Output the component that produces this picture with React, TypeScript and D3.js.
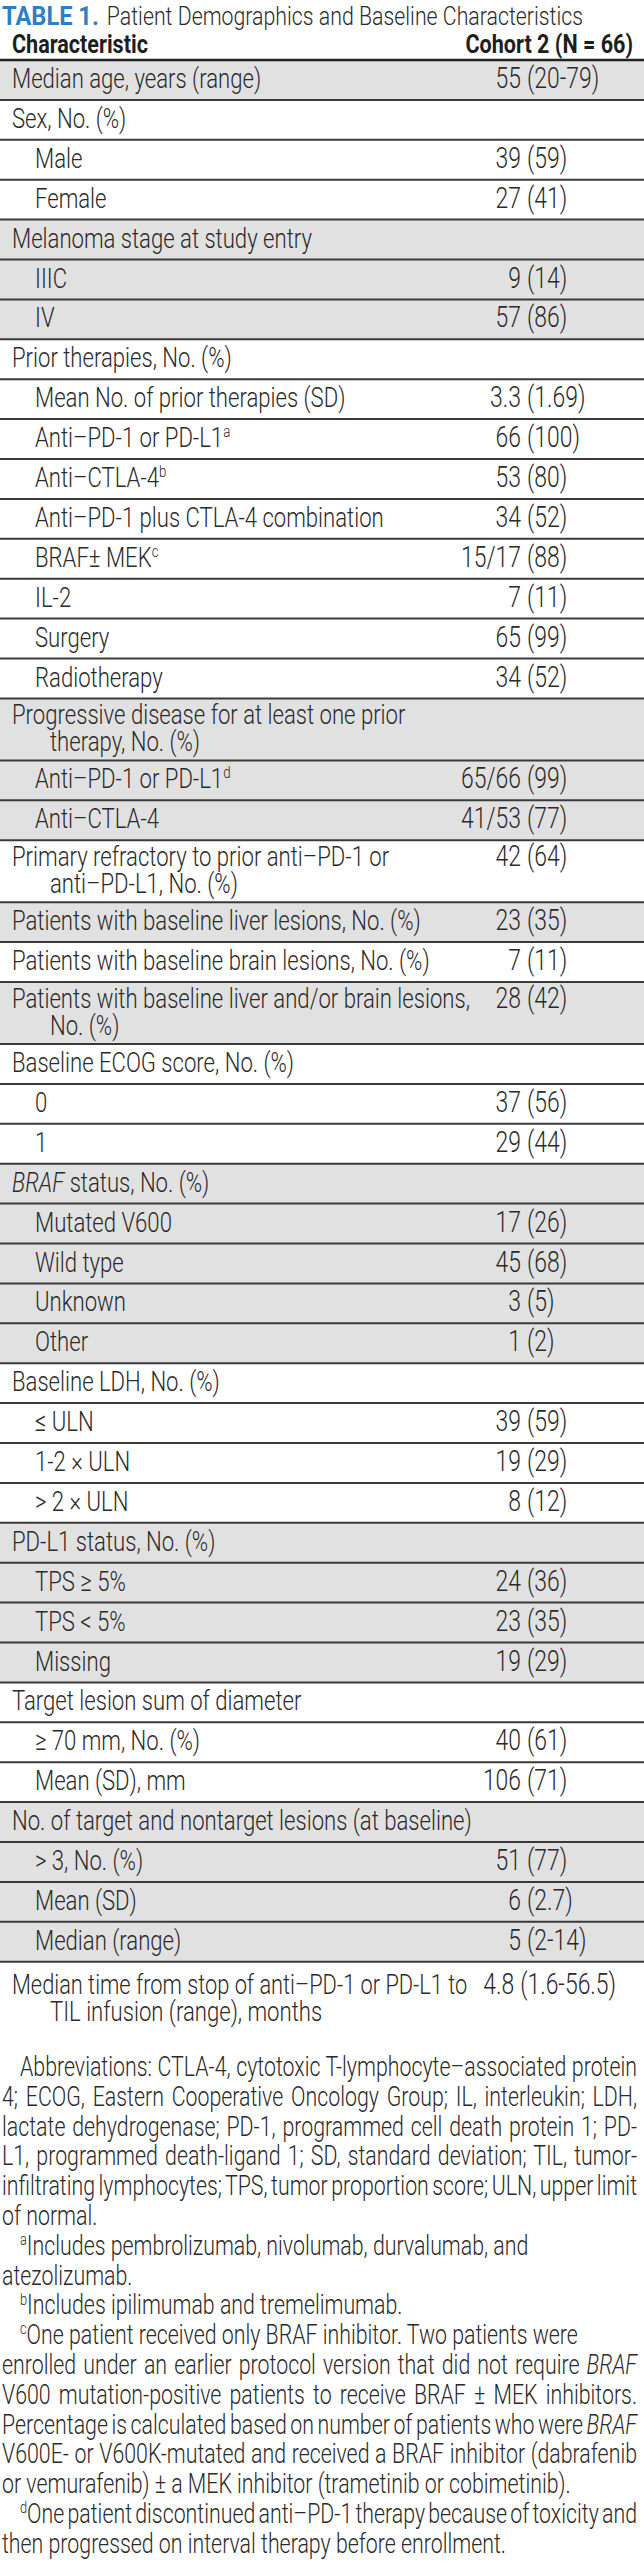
import React, { useEffect, useRef } from 'react';
import * as d3 from 'd3';

const tableLabel = 'TABLE 1.';
const tableTitle = 'Patient Demographics and Baseline Characteristics';
const headers = ['Characteristic', 'Cohort 2 (N = 66)'];

// "\n" = wrapped line, "^x" = superscript note, "*word*" = italic
const rowLabels = [
  'Median age, years (range)',
  'Sex, No. (%)',
  'Male',
  'Female',
  'Melanoma stage at study entry',
  'IIIC',
  'IV',
  'Prior therapies, No. (%)',
  'Mean No. of prior therapies (SD)',
  'Anti–PD-1 or PD-L1^a',
  'Anti–CTLA-4^b',
  'Anti–PD-1 plus CTLA-4 combination',
  'BRAF± MEK^c',
  'IL-2',
  'Surgery',
  'Radiotherapy',
  'Progressive disease for at least one prior\ntherapy, No. (%)',
  'Anti–PD-1 or PD-L1^d',
  'Anti–CTLA-4',
  'Primary refractory to prior anti–PD-1 or\nanti–PD-L1, No. (%)',
  'Patients with baseline liver lesions, No. (%)',
  'Patients with baseline brain lesions, No. (%)',
  'Patients with baseline liver and/or brain lesions,\nNo. (%)',
  'Baseline ECOG score, No. (%)',
  '0',
  '1',
  '*BRAF* status, No. (%)',
  'Mutated V600',
  'Wild type',
  'Unknown',
  'Other',
  'Baseline LDH, No. (%)',
  '≤ ULN',
  '1-2 × ULN',
  '> 2 × ULN',
  'PD-L1 status, No. (%)',
  'TPS ≥ 5%',
  'TPS < 5%',
  'Missing',
  'Target lesion sum of diameter',
  '≥ 70 mm, No. (%)',
  'Mean (SD), mm',
  'No. of target and nontarget lesions (at baseline)',
  '> 3, No. (%)',
  'Mean (SD)',
  'Median (range)',
  'Median time from stop of anti–PD-1 or PD-L1 to\nTIL infusion (range), months',
];

// 0 = section heading, 1 = item inside the section
const rowLevels = [
  0, 0, 1, 1, 0, 1, 1, 0, 1, 1, 1, 1, 1, 1, 1, 1, 0, 1, 1, 0, 0, 0, 0, 0, 1, 1,
  0, 1, 1, 1, 1, 0, 1, 1, 1, 0, 1, 1, 1, 0, 1, 1, 0, 1, 1, 1, 0,
];

const rowValues = [
  '55 (20-79)', '', '39 (59)', '27 (41)', '', '9 (14)', '57 (86)', '',
  '3.3 (1.69)', '66 (100)', '53 (80)', '34 (52)', '15/17 (88)', '7 (11)',
  '65 (99)', '34 (52)', '', '65/66 (99)', '41/53 (77)', '42 (64)', '23 (35)',
  '7 (11)', '28 (42)', '', '37 (56)', '29 (44)', '', '17 (26)', '45 (68)',
  '3 (5)', '1 (2)', '', '39 (59)', '19 (29)', '8 (12)', '', '24 (36)',
  '23 (35)', '19 (29)', '', '40 (61)', '106 (71)', '', '51 (77)', '6 (2.7)',
  '5 (2-14)', '4.8 (1.6-56.5)',
];

const footnoteParagraphs = [
  [
    'Abbreviations: CTLA-4, cytotoxic T-lymphocyte–associated protein',
    '4; ECOG, Eastern Cooperative Oncology Group; IL, interleukin; LDH,',
    'lactate dehydrogenase; PD-1, programmed cell death protein 1; PD-',
    'L1, programmed death-ligand 1; SD, standard deviation; TIL, tumor-',
    'infiltrating lymphocytes; TPS, tumor proportion score; ULN, upper limit',
    'of normal.',
  ],
  ['^aIncludes pembrolizumab, nivolumab, durvalumab, and', 'atezolizumab.'],
  ['^bIncludes ipilimumab and tremelimumab.'],
  [
    '^cOne patient received only BRAF inhibitor. Two patients were',
    'enrolled under an earlier protocol version that did not require *BRAF*',
    'V600 mutation-positive patients to receive BRAF ± MEK inhibitors.',
    'Percentage is calculated based on number of patients who were *BRAF*',
    'V600E- or V600K-mutated and received a BRAF inhibitor (dabrafenib',
    'or vemurafenib) ± a MEK inhibitor (trametinib or cobimetinib).',
  ],
  [
    '^dOne patient discontinued anti–PD-1 therapy because of toxicity and',
    'then progressed on interval therapy before enrollment.',
  ],
];

const W = 644;
const H = 2563;
const FONT = "Roboto, 'Liberation Sans', sans-serif";
const SX = 0.79; // horizontal squeeze, stands in for a condensed face

// writes "^a" superscripts and "*x*" italics as tspans
function addRich(text: any, s: string, size: number) {
  const parts = s.split(/(\^[a-d]|\*[^*]+\*)/).filter((p) => p !== '');
  let raised = false;
  parts.forEach((p) => {
    if (p.startsWith('^')) {
      text.append('tspan').attr('dy', -size * 0.36).attr('font-size', size * 0.6).text(p.slice(1));
      raised = true;
    } else {
      const t = text.append('tspan');
      if (raised) { t.attr('dy', size * 0.36); raised = false; }
      if (p.startsWith('*')) t.attr('font-style', 'italic').text(p.slice(1, -1));
      else t.text(p);
    }
  });
}

function ctext(parent: any, x: number, y: number, size: number, sx = SX) {
  return parent.append('text')
    .attr('transform', `translate(${x},${y}) scale(${sx},1)`)
    .attr('font-size', size);
}

const widthOf = (t: any, sx = SX) => (t.node() as SVGTextElement).getComputedTextLength() * sx;

export default function App() {
  const ref = useRef<SVGSVGElement>(null);

  useEffect(() => {
    document.body.style.margin = '0';
    const svg = d3.select(ref.current);
    svg.selectAll('*').remove();
    svg.attr('font-family', FONT);

    const fs = 28; // labels
    const vfs = 29; // values
    const ink = '#2a2a2a';
    const shade = '#e2e1e2';
    const rule = '#3a3a3a';
    const headerLine = 60;
    const singleH = 39.9;
    const doubleH = 62;
    const valueAnchor = 527;
    const valueMax = 616;

    // title
    const tl = ctext(svg, 2, 24.5, 26, 0.91).attr('font-weight', 'bold').attr('fill', '#2f80c3').text(tableLabel);
    ctext(svg, 2 + widthOf(tl, 0.91) + 8, 24.5, 26, 0.82).attr('font-weight', 300).attr('fill', ink).text(tableTitle);

    // column headers
    ctext(svg, 12, 52.5, 26, 0.83).attr('font-weight', 'bold').attr('fill', '#1e1e1e').text(headers[0]);
    ctext(svg, 633, 52.5, 26, 0.83).attr('font-weight', 'bold').attr('fill', '#1e1e1e')
      .attr('text-anchor', 'end').text(headers[1]);

    // row geometry
    const lines = rowLabels.map((l) => l.split('\n'));
    const heights = lines.map((l) => (l.length > 1 ? doubleH : singleH));
    const bottoms = Array.from(d3.cumsum(heights), (v) => headerLine + v);
    const tops = bottoms.map((b, i) => b - heights[i]);
    const lastRow = rowLabels.length - 1;
    let sec = -1;
    const section = rowLevels.map((lv) => (lv === 0 ? ++sec : sec));

    const rows = svg.append('g');
    rows.selectAll('rect').data(rowLabels).join('rect')
      .attr('x', 0).attr('width', W)
      .attr('y', (_, i) => tops[i]).attr('height', (_, i) => heights[i])
      .attr('fill', (_, i) => (section[i] % 2 === 0 ? shade : '#fff'));

    // row rules (last row has none)
    rows.selectAll('line.r').data(bottoms.slice(0, -1)).join('line')
      .attr('class', 'r')
      .attr('x1', 0).attr('x2', W).attr('y1', (d) => d).attr('y2', (d) => d)
      .attr('stroke', rule).attr('stroke-width', 2);
    rows.append('line').attr('x1', 0).attr('x2', W).attr('y1', headerLine).attr('y2', headerLine)
      .attr('stroke', '#222').attr('stroke-width', 2.5);

    lines.forEach((ls, i) => {
      const multi = ls.length > 1;
      const base = tops[i] + (multi ? 26 : 28) + (i === lastRow ? 6 : 0);

      // value first, so the label knows where it has to stop
      let valueLeft = W;
      const v = rowValues[i];
      if (v) {
        const cut = v.indexOf(' (');
        const g = rows.append('g');
        const rt = ctext(g, valueAnchor, base, vfs).attr('font-weight', 300).attr('fill', ink)
          .text(v.slice(cut + 1));
        const lt = ctext(g, valueAnchor - 6, base, vfs).attr('font-weight', 300).attr('fill', ink)
          .attr('text-anchor', 'end').text(v.slice(0, cut));
        const over = Math.max(0, valueAnchor + widthOf(rt) - valueMax);
        if (over > 0) g.attr('transform', `translate(${-over},0)`);
        valueLeft = valueAnchor - 6 - widthOf(lt) - over;
      }

      const x0 = rowLevels[i] === 0 ? 12 : 35;
      ls.forEach((ln, k) => {
        const x = k === 0 ? x0 : x0 + 38;
        const t = ctext(rows, x, base + k * 27, fs).attr('font-weight', 300).attr('fill', ink);
        addRich(t, ln, fs);
        const maxW = valueLeft - 16 - x;
        if (k === 0 && widthOf(t) > maxW) {
          t.attr('textLength', maxW / SX).attr('lengthAdjust', 'spacingAndGlyphs');
        }
      });
    });

    // footnotes
    const ffs = 27;
    const lineH = 29.8;
    const right = 637;
    let y = 2076;
    const notes = svg.append('g');
    footnoteParagraphs.forEach((para) => {
      para.forEach((ln, k) => {
        const x = k === 0 ? 20 : 2;
        const t = ctext(notes, x, y, ffs).attr('font-weight', 300).attr('fill', ink);
        addRich(t, ln, ffs);
        const gap = right - x - widthOf(t);
        const spaces = (ln.match(/ /g) || []).length;
        const last = k === para.length - 1;
        if (spaces > 0 && ((!last && gap < 40) || gap < 0)) {
          t.attr('word-spacing', gap / SX / spaces);
        }
        y += lineH;
      });
    });
  }, []);

  return <svg ref={ref} width={W} height={H} style={{ display: 'block', background: '#fff' }} />;
}
